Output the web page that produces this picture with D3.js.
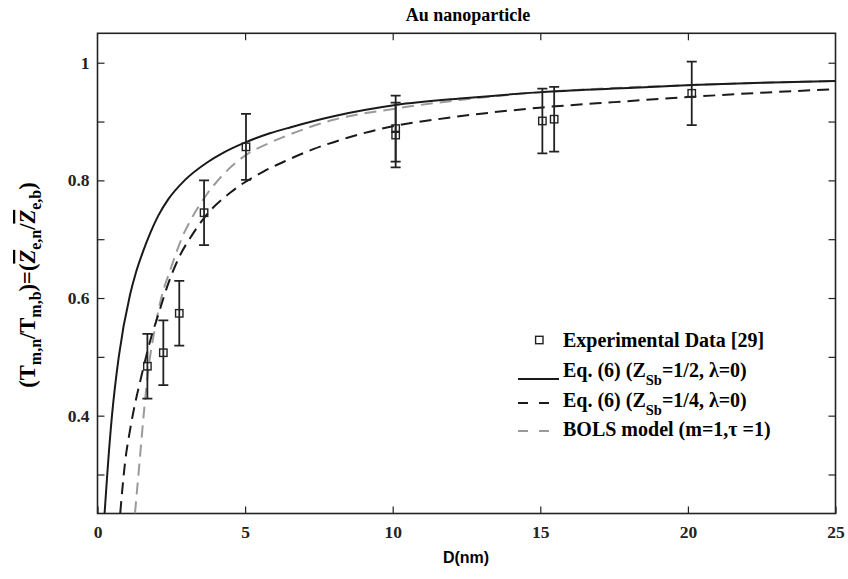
<!DOCTYPE html>
<html>
<head>
<meta charset="utf-8">
<script src="https://cdn.jsdelivr.net/npm/d3@7"></script>
<style>
body { margin: 0; background: #fff; }
text { font-family: "Liberation Serif", "Times New Roman", serif; font-weight: bold; }
</style>
</head>
<body>
<div id="chart"></div>
<script>
const widthValue = 848;
const heightValue = 579;
const margin = {top: 33.3, right: 12.5, bottom: 65.5, left: 97.5};
const serif = '"Liberation Serif", "Times New Roman", serif';

// tick values / labels
const xTicks = [0, 5, 10, 15, 20, 25];
const yTicks = [0.3, 0.4, 0.5, 0.6, 0.7, 0.8, 0.9, 1.0];
const yTickLabels = ["", "0.4", "", "0.6", "", "0.8", "", "1"];

// experimental data [29]
const expD = [1.69, 2.23, 2.77, 3.61, 5.03, 10.1, 10.1, 15.07, 15.47, 20.13];
const expV = [0.484, 0.507, 0.574, 0.745, 0.857, 0.888, 0.877, 0.901, 0.904, 0.948];
const expErr = [0.055, 0.055, 0.055, 0.055, 0.056, 0.056, 0.055, 0.055, 0.055, 0.054];

// Eq. (6), Z_Sb = 1/2 (solid)
const eqHalfD = [0.24, 0.33, 0.49, 0.72, 1.10, 1.30, 1.55, 1.80, 2.06, 2.40, 2.95, 3.70, 4.30, 5.03, 5.84, 6.52, 8.0, 10.1, 12.5, 15.07, 17.5, 20.13, 22.5, 25];
const eqHalfV = [0.234, 0.30, 0.40, 0.50, 0.605, 0.643, 0.680, 0.712, 0.740, 0.768, 0.800, 0.830, 0.848, 0.865, 0.880, 0.890, 0.909, 0.928, 0.940, 0.950, 0.956, 0.962, 0.966, 0.969];

// Eq. (6), Z_Sb = 1/4 (black dashed)
const eqQuarterD = [0.77, 0.93, 1.10, 1.21, 1.50, 1.80, 2.06, 2.40, 2.79, 3.19, 3.64, 4.6, 5.62, 6.41, 7.31, 8.44, 10.1, 11.83, 15.07, 17.5, 20.13, 22.5, 25];
const eqQuarterV = [0.234, 0.319, 0.375, 0.405, 0.470, 0.530, 0.572, 0.625, 0.672, 0.706, 0.738, 0.783, 0.815, 0.834, 0.853, 0.872, 0.893, 0.906, 0.924, 0.933, 0.942, 0.949, 0.955];

// BOLS model (grey dashed)
const bolsD = [1.27, 1.44, 1.58, 1.72, 1.95, 2.17, 2.46, 2.91, 3.13, 3.70, 4.26, 4.94, 5.84, 6.41, 8.0, 10.1, 12.5, 15.07, 17.5, 20.13, 22.5, 25];
const bolsV = [0.234, 0.33, 0.41, 0.477, 0.55, 0.602, 0.647, 0.708, 0.730, 0.776, 0.810, 0.840, 0.864, 0.876, 0.903, 0.922, 0.938, 0.950, 0.957, 0.962, 0.966, 0.969];

const svg = d3.select("#chart")
  .append("svg")
  .attr("width", widthValue)
  .attr("height", heightValue);

var x = d3.scaleLinear()
  .domain([0, 25])
  .range([margin.left, widthValue - margin.right]);
var y = d3.scaleLinear()
  .domain([0.2337, 1.05])
  .range([heightValue - margin.bottom, margin.top]);

const x0 = x.range()[0], x1 = x.range()[1];
const yb = y.range()[0], yt = y.range()[1];

svg.append("clipPath").attr("id", "plotclip")
  .append("rect")
  .attr("x", x0).attr("y", yt)
  .attr("width", x1 - x0).attr("height", yb - yt);

// axes, ticks pointing inward
function styleAxis(g) {
  g.select(".domain").remove();
  g.attr("font-family", serif).attr("font-size", 17.5).attr("font-weight", "bold").attr("color", "#222");
  g.selectAll(".tick line").attr("stroke-width", 1.2);
}

svg.append("g")
  .attr("transform", `translate(0,${yb})`)
  .call(d3.axisBottom(x).tickValues(xTicks).tickSizeInner(-7).tickSizeOuter(0).tickPadding(12).tickFormat(d3.format("d")))
  .call(styleAxis);

svg.append("g")
  .attr("transform", `translate(0,${yt})`)
  .call(d3.axisTop(x).tickValues(xTicks.slice(1, -1)).tickSizeInner(-7).tickSizeOuter(0).tickFormat(""))
  .call(styleAxis);

svg.append("g")
  .attr("transform", `translate(${x0},0)`)
  .call(d3.axisLeft(y).tickValues(yTicks).tickSizeInner(-7).tickSizeOuter(0).tickPadding(8)
    .tickFormat((d, i) => yTickLabels[i]))
  .call(styleAxis);

svg.append("g")
  .attr("transform", `translate(${x1},0)`)
  .call(d3.axisRight(y).tickValues(yTicks).tickSizeInner(-7).tickSizeOuter(0).tickFormat(""))
  .call(styleAxis);

// box
svg.append("rect")
  .attr("x", x0).attr("y", yt)
  .attr("width", x1 - x0).attr("height", yb - yt)
  .attr("fill", "none")
  .attr("stroke", "#222")
  .attr("stroke-width", 1.6);

// curves
const line = d3.line()
  .x(d => x(d[0]))
  .y(d => y(d[1]))
  .curve(d3.curveMonotoneX);

const plot = svg.append("g").attr("clip-path", "url(#plotclip)");

plot.append("path")
  .datum(d3.zip(bolsD, bolsV))
  .attr("d", line)
  .attr("fill", "none")
  .attr("stroke", "#9a9a9a")
  .attr("stroke-width", 2)
  .attr("stroke-dasharray", "12,7");

plot.append("path")
  .datum(d3.zip(eqQuarterD, eqQuarterV))
  .attr("d", line)
  .attr("fill", "none")
  .attr("stroke", "#1a1a1a")
  .attr("stroke-width", 2)
  .attr("stroke-dasharray", "12,7");

plot.append("path")
  .datum(d3.zip(eqHalfD, eqHalfV))
  .attr("d", line)
  .attr("fill", "none")
  .attr("stroke", "#1a1a1a")
  .attr("stroke-width", 2);

// experimental points with error bars
const pts = d3.zip(expD, expV, expErr);
const eb = plot.append("g").attr("stroke", "#222").attr("stroke-width", 1.8).attr("fill", "none");
const capW = 5;
eb.selectAll(".ebar").data(pts).join("path")
  .attr("class", "ebar")
  .attr("d", d => {
    const cx = x(d[0]), yl = y(d[1] - d[2]), yh = y(d[1] + d[2]);
    return `M${cx},${yl}V${yh}M${cx - capW},${yh}H${cx + capW}M${cx - capW},${yl}H${cx + capW}`;
  });
eb.selectAll(".pt").data(pts).join("rect")
  .attr("class", "pt")
  .attr("x", d => x(d[0]) - 3.7)
  .attr("y", d => y(d[1]) - 3.7)
  .attr("width", 7.4)
  .attr("height", 7.4)
  .attr("stroke-width", 1.4);

// title and axis labels
svg.append("text")
  .attr("x", 468).attr("y", 21)
  .attr("text-anchor", "middle")
  .attr("font-size", 18)
  .text("Au nanoparticle");

svg.append("text")
  .attr("x", 466).attr("y", 563)
  .attr("text-anchor", "middle")
  .style("font-family", '"Liberation Sans", Arial, sans-serif')
  .attr("font-size", 16)
  .text("D(nm)");

// y label with subscripts
const ylab = svg.append("text")
  .attr("transform", "translate(35,285) rotate(-90)")
  .attr("text-anchor", "middle")
  .attr("font-size", 22.5);
const ylabParts = [
  {t: "(T"}, {t: "m,n", sub: true}, {t: "/T"}, {t: "m,b", sub: true}, {t: ")=("},
  {t: "Z", bar: true}, {t: "e,n", sub: true}, {t: "/"}, {t: "Z", bar: true}, {t: "e,b", sub: true}, {t: ")"}
];
ylabParts.forEach(p => {
  const ts = ylab.append("tspan").text(p.t);
  if (p.sub) ts.attr("font-size", 16).attr("baseline-shift", "-6");
  if (p.bar) ts.attr("font-style", "italic").style("text-decoration", "overline");
});

// legend
const legendLabels = [
  [{t: "Experimental Data [29]"}],
  [{t: "Eq. (6) (Z"}, {t: "Sb", sub: true}, {t: "=1/2, λ=0)"}],
  [{t: "Eq. (6) (Z"}, {t: "Sb", sub: true}, {t: "=1/4, λ=0)"}],
  [{t: "BOLS model (m=1,τ =1)"}]
];
const legendY = [340, 370, 400, 429];
const lg = svg.append("g");
legendLabels.forEach((parts, i) => {
  const t = lg.append("text")
    .attr("x", 563).attr("y", legendY[i] + 6.5)
    .attr("font-size", 20);
  parts.forEach(p => {
    const ts = t.append("tspan").text(p.t);
    if (p.sub) ts.attr("font-size", 14.5).attr("baseline-shift", "-7.5");
  });
});
lg.append("rect")
  .attr("x", 539.3 - 3.7).attr("y", legendY[0] - 3.7)
  .attr("width", 7.4).attr("height", 7.4)
  .attr("fill", "none").attr("stroke", "#222").attr("stroke-width", 1.4);
lg.append("line")
  .attr("x1", 518).attr("x2", 559).attr("y1", legendY[1] + 9).attr("y2", legendY[1] + 9)
  .attr("stroke", "#1a1a1a").attr("stroke-width", 2);
lg.append("line")
  .attr("x1", 518).attr("x2", 549).attr("y1", legendY[2] + 3).attr("y2", legendY[2] + 3)
  .attr("stroke", "#1a1a1a").attr("stroke-width", 2).attr("stroke-dasharray", "10,11");
lg.append("line")
  .attr("x1", 518).attr("x2", 549).attr("y1", legendY[3] + 2).attr("y2", legendY[3] + 2)
  .attr("stroke", "#9a9a9a").attr("stroke-width", 2).attr("stroke-dasharray", "10,11");
</script>
</body>
</html>
